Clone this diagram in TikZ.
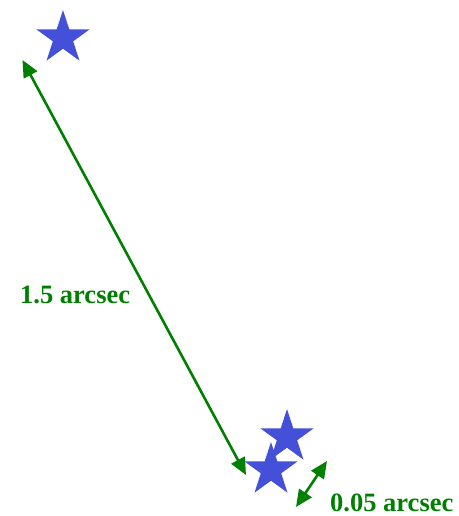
\documentclass[tikz,border=0pt]{standalone}
\usepackage{fontspec}
\setmainfont{Liberation Serif}
\usetikzlibrary{shapes.geometric,arrows.meta}
\definecolor{starblue}{RGB}{68,80,216}
\definecolor{arrgreen}{RGB}{0,128,0}
\tikzset{
  starnode/.style={star, star points=5, star point ratio=2.618, minimum size=56pt, inner sep=0pt, fill=starblue, draw=none},
  measure/.style={draw=arrgreen, line width=2.6pt, {Triangle[length=17pt,width=15pt]}-{Triangle[length=17pt,width=15pt]}},
  lbl/.style={text=arrgreen, font=\bfseries\fontsize{26.5}{30}\selectfont, anchor=base west, inner sep=0pt}
}
\begin{document}
\begin{tikzpicture}[x=1pt,y=-1pt]
\useasboundingbox (0,0) rectangle (458,516);
\node[starnode] (s1) at (63,38) {};
\node[starnode] (s2) at (287,437) {};
\node[starnode] (s3) at (271,470) {};
\coordinate (a1) at (22.5,60);
\coordinate (a2) at (246,475);
\coordinate (b1) at (296,507);
\coordinate (b2) at (327,461);
\draw[measure] (a1) -- (a2);
\draw[measure] (b1) -- (b2);
\node[lbl] (l1) at (20,303) {1.5 arcsec};
\node[lbl] (l2) at (330,511) {0.05 arcsec};
\end{tikzpicture}
\end{document}
